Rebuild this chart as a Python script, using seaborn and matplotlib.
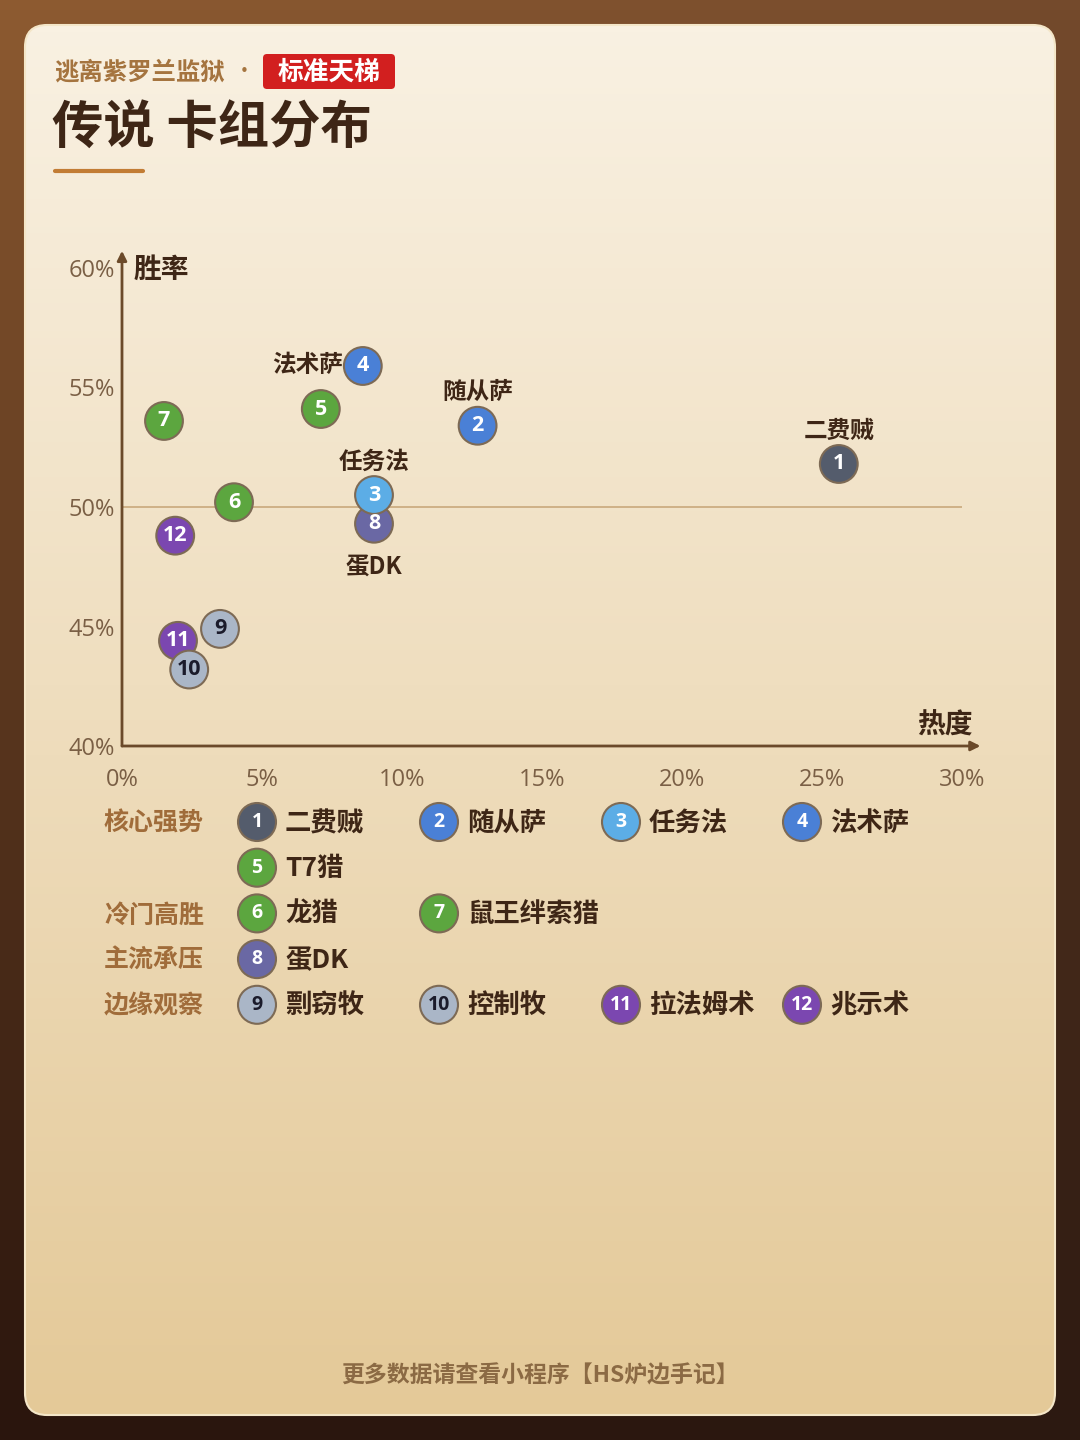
import numpy as np
import pandas as pd
import matplotlib
matplotlib.use('Agg')
import matplotlib.pyplot as plt
import seaborn as sns
from matplotlib.patches import FancyBboxPatch, Circle
from matplotlib.colors import to_rgb

# ---- data ----
deck_ids = [1, 2, 3, 4, 5, 6, 7, 8, 9, 10, 11, 12]
deck_names = ['二费贼', '随从萨', '任务法', '法术萨', 'T7猎', '龙猎', '鼠王绊索猎',
              '蛋DK', '剽窃牧', '控制牧', '拉法姆术', '兆示术']
popularity = [25.6, 12.7, 9.0, 8.6, 7.1, 4.0, 1.5, 9.0, 3.5, 2.4, 2.0, 1.9]
win_rate = [51.8, 53.4, 50.5, 55.9, 54.1, 50.2, 53.6, 49.3, 44.9, 43.2, 44.4, 48.8]
tiers = ['核心强势'] * 5 + ['冷门高胜'] * 2 + ['主流承压'] + ['边缘观察'] * 4
deck_colors = ['#545c6c', '#4a80d6', '#5cade6', '#4a80d6', '#5ca63f', '#5ca63f',
               '#5ca63f', '#6a68a4', '#aab6c7', '#aab6c7', '#7b47b0', '#7b47b0']
tier_order = ['核心强势', '冷门高胜', '主流承压', '边缘观察']
x_ticks = [0, 5, 10, 15, 20, 25, 30]
y_ticks = [40, 45, 50, 55, 60]
point_labels = {1: 'above', 2: 'above', 3: 'above', 4: 'left', 8: 'below'}

df = pd.DataFrame({'deck': deck_ids, 'name': deck_names, 'popularity': popularity,
                   'win_rate': win_rate, 'tier': tiers})

sns.set_theme(style='white')
plt.rcParams['font.family'] = ['Noto Sans CJK SC', 'DejaVu Sans']

DARK = '#3e2616'
fig = plt.figure(figsize=(10.8, 14.4), dpi=100)

# ---- background + card (pixel coordinates) ----
bg = fig.add_axes([0, 0, 1, 1], zorder=0)
bg.set_xlim(0, 1080)
bg.set_ylim(1440, 0)
bg.axis('off')

t = np.linspace(0, 1, 144)[:, None, None]
s = np.linspace(0, 1, 108)[None, :, None]
top = np.array(to_rgb('#8e5b31')) * (1 - s) + np.array(to_rgb('#744a2c')) * s
bot = np.array(to_rgb('#2a150d')) * (1 - s) + np.array(to_rgb('#2c1911')) * s
outer = top * (1 - t ** 0.9) + bot * t ** 0.9
bg.imshow(outer, extent=(0, 1080, 1440, 0), aspect='auto', zorder=0)

card = FancyBboxPatch((25, 25), 1030, 1390, boxstyle='round,pad=0,rounding_size=22',
                      fc='none', ec='#f4e6c8', lw=1.5, zorder=2)
bg.add_patch(card)
tc = np.linspace(0, 1, 200)[:, None, None]
card_grad = np.array(to_rgb('#f9f1e2')) * (1 - tc) + np.array(to_rgb('#e4c998')) * tc
card_grad = np.repeat(card_grad, 2, axis=1)
img = bg.imshow(card_grad, extent=(25, 1055, 1415, 25), aspect='auto', zorder=1)
img.set_clip_path(card)

# ---- header ----
bg.text(54, 72, '逃离紫罗兰监狱', fontsize=17.6, fontweight='bold', color='#a5743f',
        va='center', ha='left', zorder=3)
bg.text(244, 72, '•', fontsize=15, color='#a5743f', va='center', ha='center', zorder=3)
bg.add_patch(FancyBboxPatch((263, 54), 132, 35, boxstyle='round,pad=0,rounding_size=4',
                            fc='#d21f1f', ec='none', zorder=3))
bg.text(329, 72, '标准天梯', fontsize=18.5, fontweight='bold', color='white',
        va='center', ha='center', zorder=4)
bg.text(52, 128, '传说 卡组分布', fontsize=37, fontweight='bold', color=DARK,
        va='center', ha='left', zorder=3)
bg.plot([55, 143], [171, 171], color='#c27c34', lw=3, solid_capstyle='round', zorder=3)

# ---- scatter ----
ax = fig.add_axes([122 / 1080, 1 - 746 / 1440, 840 / 1080, 478 / 1440], zorder=2)
ax.set_facecolor('none')
ax.set_xlim(0, 30)
ax.set_ylim(40, 60)
for sp in ax.spines.values():
    sp.set_visible(False)

ax.axhline(50, color='#c9a97c', lw=1.2, zorder=1)
axis_col = '#6b4a2a'
ax.annotate('', xy=(0, 1.036), xytext=(0, 0), xycoords='axes fraction',
            arrowprops=dict(arrowstyle='-|>', color=axis_col, lw=2, mutation_scale=14,
                            shrinkA=0, shrinkB=0), annotation_clip=False)
ax.annotate('', xy=(1.022, 0), xytext=(0, 0), xycoords='axes fraction',
            arrowprops=dict(arrowstyle='-|>', color=axis_col, lw=2, mutation_scale=14,
                            shrinkA=0, shrinkB=0), annotation_clip=False)

ax.set_xticks(x_ticks)
ax.set_xticklabels([f'{v}%' for v in x_ticks])
ax.set_yticks(y_ticks)
ax.set_yticklabels([f'{v}%' for v in y_ticks])
ax.tick_params(length=0, labelsize=17, colors='#7a5f45')
ax.tick_params(axis='x', pad=16)
ax.tick_params(axis='y', pad=5)
for lab in ax.get_xticklabels() + ax.get_yticklabels():
    lab.set_family(['Open Sans', 'DejaVu Sans'])
ax.set_xlabel('')
ax.set_ylabel('')

ax.text(0.014, 0.996, '胜率', transform=ax.transAxes, fontsize=20, fontweight='bold',
        color=DARK, ha='left', va='center')
ax.text(0.98, 0.042, '热度', transform=ax.transAxes, fontsize=20, fontweight='bold',
        color=DARK, ha='center', va='center')

palette = dict(zip(deck_ids, deck_colors))
sns.scatterplot(data=df.iloc[::-1], x='popularity', y='win_rate', hue='deck',
                palette=palette, s=740, edgecolor='#7d6a55', linewidth=1.5,
                legend=False, ax=ax, zorder=3, clip_on=False)
ax.set_xlabel('')
ax.set_ylabel('')

for d, x, y, c in zip(deck_ids, popularity, win_rate, deck_colors):
    tcol = '#1b1b2b' if d in (9, 10) else 'white'
    ax.text(x, y, str(d), ha='center', va='center', color=tcol, fontsize=15.5,
            fontweight='bold', family=['Open Sans', 'DejaVu Sans'], zorder=5)

for d, pos in point_labels.items():
    i = deck_ids.index(d)
    if pos == 'above':
        off, ha = (0, 24), 'center'
    elif pos == 'below':
        off, ha = (0, -31), 'center'
    else:
        off, ha = (-14, 1), 'right'
    ax.annotate(deck_names[i], (popularity[i], win_rate[i]), xytext=off,
                textcoords='offset points', ha=ha, va='center', fontsize=17,
                fontweight='bold', color=DARK, zorder=6)

# ---- legend ----
row_y = 822
col_x = [257, 439, 621, 802]
for tier in tier_order:
    sub = df[df['tier'] == tier].reset_index(drop=True)
    bg.text(104, row_y + 2, tier, fontsize=18, fontweight='bold', color='#a06c3a',
            ha='left', va='center', zorder=3)
    for k, row in sub.iterrows():
        if k > 0 and k % 4 == 0:
            row_y += 45.7
        cx = col_x[k % 4]
        bg.add_patch(Circle((cx, row_y), 19, fc=palette[row['deck']], ec='#7d6a55',
                            lw=1.5, zorder=3))
        tcol = '#1b1b2b' if row['deck'] in (9, 10) else 'white'
        bg.text(cx, row_y, str(row['deck']), fontsize=14, fontweight='bold', color=tcol,
                ha='center', va='center', family=['Open Sans', 'DejaVu Sans'], zorder=4)
        bg.text(cx + 28, row_y + 1, row['name'], fontsize=19, fontweight='bold', color=DARK,
                ha='left', va='center', zorder=4)
    row_y += 45.7

# ---- footer ----
bg.text(540, 1376, '更多数据请查看小程序【HS炉边手记】', fontsize=16.5, fontweight='bold',
        fontstyle='italic', color='#8b6a44', ha='center', va='center', zorder=3)

fig.savefig('out.png', dpi=100)
